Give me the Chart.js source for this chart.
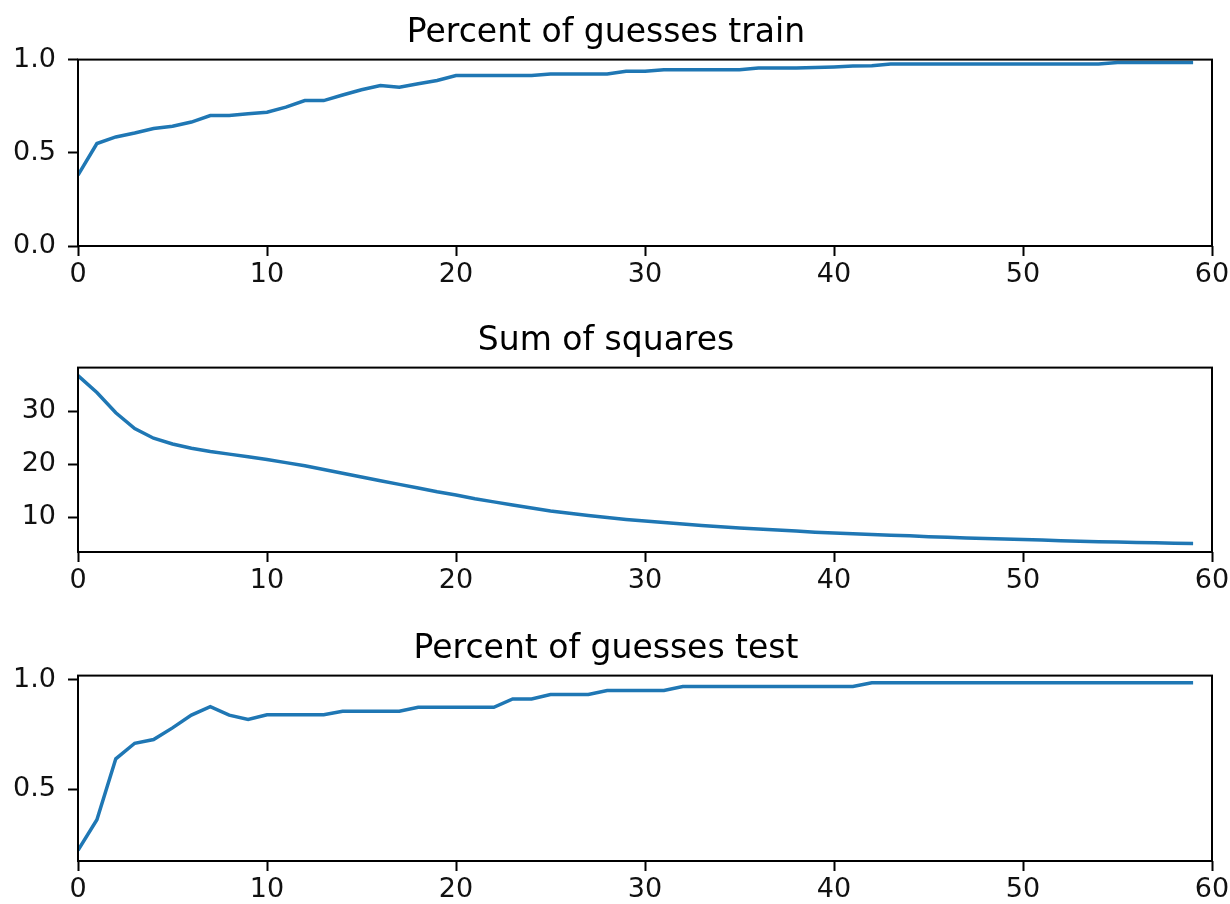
<!DOCTYPE html>
<html lang="en">
<head>
    <meta charset="UTF-8">
    <title>Training curves</title>
    <script src="https://cdn.jsdelivr.net/npm/chart.js"></script>
    <style>
        body {
            margin: 0;
            background: #ffffff;
        }

        canvas {
            position: absolute;
            left: 0;
        }
    </style>
</head>
<body>

    <canvas id="chartTrain" width="1230" height="289" style="top:0px"></canvas>
    <canvas id="chartSquares" width="1230" height="287" style="top:308px"></canvas>
    <canvas id="chartTest" width="1230" height="288" style="top:616px"></canvas>

    <script>
        // Percent of guesses on the training set, one value per epoch
        const trainPercent = [
            0.38, 0.55, 0.585, 0.606, 0.63, 0.642, 0.665, 0.70, 0.70, 0.71,
            0.718, 0.745, 0.78, 0.78, 0.81, 0.838, 0.861, 0.852, 0.87, 0.888,
            0.915, 0.915, 0.915, 0.915, 0.915, 0.923, 0.923, 0.923, 0.923, 0.937,
            0.937, 0.945, 0.945, 0.945, 0.945, 0.945, 0.955, 0.955, 0.955, 0.957,
            0.96, 0.965, 0.967, 0.976, 0.976, 0.976, 0.976, 0.976, 0.976, 0.976,
            0.976, 0.976, 0.976, 0.976, 0.976, 0.985, 0.985, 0.985, 0.985, 0.985
        ];

        // Sum of squares (loss), one value per epoch
        const sumSquares = [
            36.7, 33.5, 29.7, 26.7, 24.9, 23.8, 23.0, 22.4, 21.9, 21.4,
            20.9, 20.3, 19.7, 19.0, 18.3, 17.6, 16.9, 16.2, 15.5, 14.8,
            14.2, 13.5, 12.9, 12.3, 11.75, 11.2, 10.75, 10.35, 9.95, 9.6,
            9.3, 9.0, 8.72, 8.45, 8.2, 8.0, 7.8, 7.6, 7.4, 7.2,
            7.05, 6.9, 6.75, 6.6, 6.5, 6.35, 6.25, 6.1, 6.0, 5.9,
            5.8, 5.7, 5.6, 5.5, 5.4, 5.35, 5.25, 5.2, 5.1, 5.05
        ];

        // Percent of guesses on the test set, one value per epoch
        const testPercent = [
            0.223, 0.362, 0.639, 0.71, 0.727, 0.78, 0.838, 0.877, 0.838, 0.818,
            0.84, 0.84, 0.84, 0.84, 0.856, 0.856, 0.856, 0.856, 0.874, 0.874,
            0.874, 0.874, 0.874, 0.912, 0.912, 0.932, 0.932, 0.932, 0.95, 0.95,
            0.95, 0.95, 0.968, 0.968, 0.968, 0.968, 0.968, 0.968, 0.968, 0.968,
            0.968, 0.968, 0.985, 0.985, 0.985, 0.985, 0.985, 0.985, 0.985, 0.985,
            0.985, 0.985, 0.985, 0.985, 0.985, 0.985, 0.985, 0.985, 0.985, 0.985
        ];

        // Tick labels
        const xTicks = [0, 10, 20, 30, 40, 50, 60];
        const yTicksTrain = [0, 0.5, 1.0];
        const yTicksSquares = [10, 20, 30];
        const yTicksTest = [0.5, 1.0];

        const lineColor = '#1f77b4';
        const tickFont = { family: 'DejaVu Sans', size: 27 };

        // draws the black frame around the plot area (all four spines)
        const framePlugin = {
            id: 'frame',
            afterDraw(chart) {
                const a = chart.chartArea;
                const ctx = chart.ctx;
                ctx.save();
                ctx.strokeStyle = '#000000';
                ctx.lineWidth = 2;
                ctx.strokeRect(a.left, a.top, a.right - a.left, a.bottom - a.top);
                ctx.restore();
            }
        };

        function makeChart(id, title, values, yMin, yMax, yTicks, decimals) {
            const ctx = document.getElementById(id).getContext('2d');
            return new Chart(ctx, {
                type: 'line',
                data: {
                    datasets: [{
                        data: values.map((v, i) => ({ x: i, y: v })),
                        borderColor: lineColor,
                        borderWidth: 3.5,
                        pointRadius: 0,
                        tension: 0,
                        fill: false
                    }]
                },
                options: {
                    responsive: false,
                    animation: false,
                    layout: {
                        padding: { left: 0, right: 18, top: 0, bottom: 0 }
                    },
                    plugins: {
                        legend: { display: false },
                        tooltip: { enabled: false },
                        title: {
                            display: true,
                            text: title,
                            color: '#000000',
                            font: { family: 'DejaVu Sans', size: 33, weight: 'normal' },
                            padding: { top: 14, bottom: 6 }
                        }
                    },
                    scales: {
                        x: {
                            type: 'linear',
                            min: 0,
                            max: 60,
                            afterBuildTicks: s => { s.ticks = xTicks.map(v => ({ value: v })); },
                            afterFit: s => { s.height = 43; s.paddingRight = 18; },
                            border: { display: false },
                            grid: {
                                drawOnChartArea: false,
                                drawTicks: true,
                                tickLength: 10,
                                tickWidth: 2,
                                tickColor: '#000000'
                            },
                            ticks: {
                                color: '#111111',
                                font: tickFont,
                                padding: 3,
                                maxRotation: 0
                            }
                        },
                        y: {
                            min: yMin,
                            max: yMax,
                            afterBuildTicks: s => { s.ticks = yTicks.map(v => ({ value: v })); },
                            afterFit: s => { s.width = 78; },
                            border: { display: false },
                            grid: {
                                drawOnChartArea: false,
                                drawTicks: true,
                                tickLength: 10,
                                tickWidth: 2,
                                tickColor: '#000000'
                            },
                            ticks: {
                                color: '#111111',
                                font: tickFont,
                                padding: 12,
                                callback: v => Number(v).toFixed(decimals)
                            }
                        }
                    }
                },
                plugins: [framePlugin]
            });
        }

        makeChart('chartTrain', 'Percent of guesses train', trainPercent, 0, 1, yTicksTrain, 1);
        makeChart('chartSquares', 'Sum of squares', sumSquares, 3.46, 38.2, yTicksSquares, 0);
        makeChart('chartTest', 'Percent of guesses test', testPercent, 0.174, 1.018, yTicksTest, 1);
    </script>

</body>
</html>
